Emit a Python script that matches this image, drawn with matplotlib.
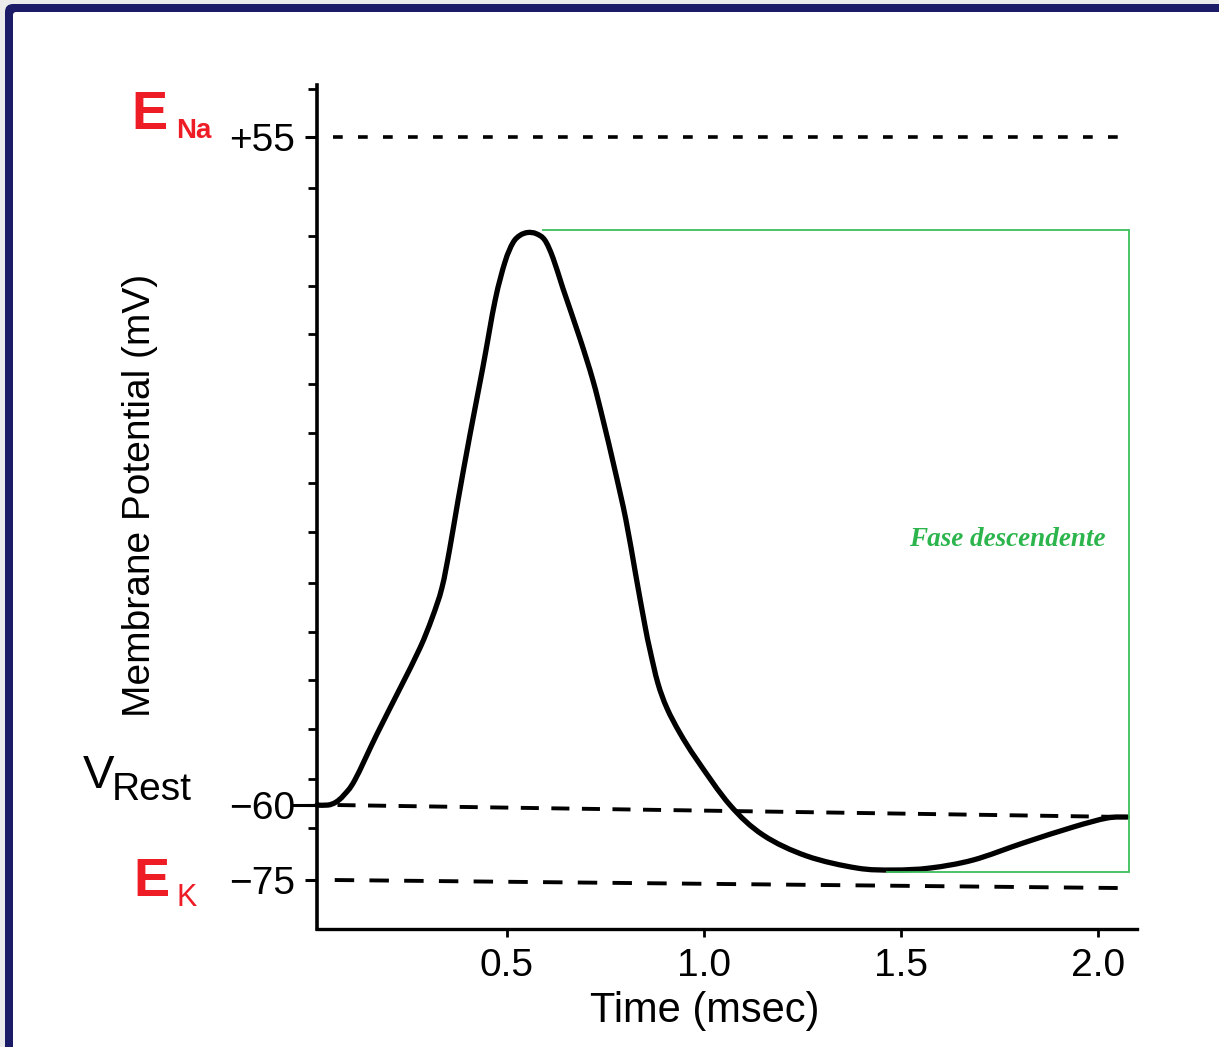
import numpy as np
import matplotlib
matplotlib.use("Agg")
import matplotlib.pyplot as plt
from matplotlib.patches import FancyBboxPatch, PathPatch
from matplotlib.path import Path
from matplotlib.transforms import blended_transform_factory

# ---------------- data ----------------
t_ms = [0.018, 0.046, 0.066, 0.086, 0.114, 0.170, 0.228, 0.279, 0.310, 0.335,
        0.355, 0.376, 0.406, 0.439, 0.470, 0.495, 0.515, 0.533, 0.553, 0.574,
        0.596, 0.617, 0.642, 0.685, 0.718, 0.744, 0.774, 0.802, 0.827, 0.850,
        0.863, 0.883, 0.906, 0.939, 0.982, 1.066, 1.150, 1.261, 1.388, 1.480,
        1.574, 1.683, 1.810, 1.937, 2.023, 2.074]
v_mv = [-60.0, -60.0, -59.5, -58.3, -55.7, -47.8, -40.0, -33.0, -27.8, -22.6,
        -15.8, -7.5, 3.7, 15.4, 26.9, 33.5, 36.8, 38.1, 38.6, 38.4,
        37.3, 34.2, 29.0, 20.4, 13.2, 6.3, -2.3, -10.9, -20.4, -29.0,
        -33.3, -39.0, -43.3, -47.6, -52.2, -60.0, -66.0, -70.2, -72.6, -73.0,
        -72.6, -71.0, -67.6, -64.4, -62.6, -62.4]

ena_t = [0.058, 2.080]
ena_v = [55.0, 55.0]
rest_t = [0.070, 2.075]
rest_v = [-60.0, -62.4]
ek_t = [0.063, 2.050]
ek_v = [-75.0, -76.6]

box_t = [0.591, 2.079, 2.079, 1.464]
box_v = [39.0, 39.0, -73.4, -73.4]

x_ticks = [0.5, 1.0, 1.5, 2.0]
x_tick_labels = ["0.5", "1.0", "1.5", "2.0"]
y_major = [55, -60, -75]
y_major_labels = ["+55", "\u221260", "\u221275"]
y_minor = [63.3, 46.2, 38.0, 29.3, 21.1, 12.5, 4.0, -4.6, -13.0, -21.8,
           -30.2, -38.5, -46.9, -55.5, -64.6]

# ---------------- figure ----------------
plt.rcParams["font.family"] = ["Liberation Sans", "DejaVu Sans"]
plt.rcParams["lines.scale_dashes"] = False

W, H = 1219, 1047
fig = plt.figure(figsize=(W / 100, H / 100), dpi=100, facecolor="#ebebeb")

navy = "#1c1b68"
fig.patches.append(FancyBboxPatch((5, -40), W + 40, H - 4 + 40,
                                  boxstyle="round,pad=0,rounding_size=8",
                                  transform=None, facecolor=navy,
                                  edgecolor="none", zorder=-10))
fig.patches.append(FancyBboxPatch((13, -40), W + 40, H - 12 + 40,
                                  boxstyle="round,pad=0,rounding_size=3",
                                  transform=None, facecolor="white",
                                  edgecolor="none", zorder=-9))


def px(x, y):
    return x / W, 1 - y / H


ax_l, ax_r, ax_t, ax_b = 317, 1137, 85, 929
ax = fig.add_axes([ax_l / W, 1 - ax_b / H, (ax_r - ax_l) / W, (ax_b - ax_t) / H])
ax.set_facecolor("none")


def fwd(v):
    v = np.asarray(v, dtype=float)
    return np.where(v >= -60, (v + 60) * 5.809, (v + 60) * 5.0)


def inv(p):
    p = np.asarray(p, dtype=float)
    return np.where(p >= 0, p / 5.809 - 60, p / 5.0 - 60)


ax.set_yscale("function", functions=(fwd, inv))
ax.set_xlim(0.018, 2.099)
ax.set_ylim(-84.8, 64.0)

# reference dashed lines
ax.plot(ena_t, ena_v, color="black", lw=2.6, dashes=(7, 11))
ax.plot(rest_t, rest_v, color="black", lw=2.8, dashes=(13, 9))
ax.plot(ek_t, ek_v, color="black", lw=2.8, dashes=(14, 11))

# green box
ax.plot(box_t, box_v, color="#3cbf5c", lw=1.3, solid_joinstyle="miter")


# action potential trace drawn as a smooth Catmull-Rom curve through the points
def smooth_path(xs, ys):
    X = np.asarray(xs, float) * 394.0
    Y = fwd(ys)
    P = np.column_stack([X, Y])
    P = np.vstack([P[0], P, P[-1]])
    verts = [P[1]]
    codes = [Path.MOVETO]
    for i in range(1, len(P) - 2):
        c1 = P[i] + (P[i + 1] - P[i - 1]) / 6.0
        c2 = P[i + 1] - (P[i + 2] - P[i]) / 6.0
        verts += [c1, c2, P[i + 1]]
        codes += [Path.CURVE4] * 3
    V = np.array(verts)
    V = np.column_stack([V[:, 0] / 394.0, inv(V[:, 1])])
    return Path(V, codes)


ax.add_patch(PathPatch(smooth_path(t_ms, v_mv), facecolor="none",
                       edgecolor="black", lw=3.8, capstyle="round",
                       joinstyle="round", clip_on=False))

# spines
for s in ["top", "right"]:
    ax.spines[s].set_visible(False)
ax.spines["left"].set_linewidth(2.6)
ax.spines["bottom"].set_linewidth(2.4)

ax.set_xticks(x_ticks, x_tick_labels)
ax.tick_params(axis="x", direction="out", length=6, width=2, pad=8,
               labelsize=28)
ax.set_yticks(y_major, y_major_labels)
ax.set_yticks(y_minor, minor=True)
ax.tick_params(axis="y", which="major", direction="out", length=9, width=2.2,
               pad=7, labelsize=28)
ax.tick_params(axis="y", which="minor", direction="out", length=6.5, width=2)

# longer tick at the resting potential
blend = blended_transform_factory(ax.transAxes, ax.transData)
ax.plot([-24 / 820, 0], [-60, -60], color="black", lw=2.2, transform=blend,
        clip_on=False)

# axis titles
fig.text(*px(705, 1022), "Time (msec)", ha="center", va="baseline", fontsize=30)
fig.text(*px(140, 495), "Membrane Potential (mV)", ha="center", va="center",
         rotation=90, fontsize=28)

# side labels
red = "#ee1c25"
fig.text(*px(131, 129), "E", color=red, fontsize=39, fontweight="bold",
         ha="left", va="baseline")
fig.text(*px(176, 138), "Na", color=red, fontsize=20, fontweight="bold",
         ha="left", va="baseline")
fig.text(*px(133, 896), "E", color=red, fontsize=39, fontweight="bold",
         ha="left", va="baseline")
fig.text(*px(177, 906), "K", color=red, fontsize=22, ha="left", va="baseline")
fig.text(*px(83, 788), "V", color="black", fontsize=34, ha="left", va="baseline")
fig.text(*px(112, 800), "Rest", color="black", fontsize=28, ha="left",
         va="baseline")

# green annotation
fig.text(*px(1007, 539), "Fase descendente", color="#2cb54c", fontsize=19.5,
         fontweight="bold", fontstyle="italic",
         family=["Liberation Serif", "DejaVu Serif"],
         ha="center", va="center")

fig.savefig("out.png", dpi=100, facecolor=fig.get_facecolor())
